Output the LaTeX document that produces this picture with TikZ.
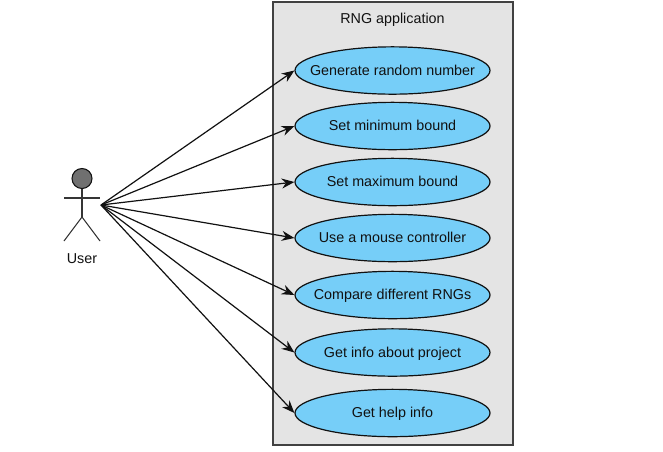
\documentclass[tikz,border=0pt]{standalone}
\usepackage{fontspec}
\setmainfont{Liberation Sans}
\usetikzlibrary{shapes.geometric,arrows.meta}
\definecolor{sky}{RGB}{118,206,248}
\definecolor{pane}{RGB}{228,228,228}
\definecolor{ink}{RGB}{17,17,17}
\tikzset{
  sys/.style={draw=ink!80,fill=pane,line width=0.9pt,inner sep=0pt},
  uc/.style={draw=ink,fill=sky,ellipse,line width=0.9pt,align=center,font=\fontsize{10.75pt}{12pt}\selectfont,text=ink,minimum width=146.25pt,minimum height=35.5pt,inner ysep=0pt,inner xsep=-35pt,text height=9pt,text depth=2pt},
  arr/.style={-{Stealth[length=9.5pt,width=7.5pt]},line width=0.9pt,draw=ink},
  fig/.style={line width=0.8pt,draw=ink!85},
  lbl/.style={font=\fontsize{10.75pt}{12pt}\selectfont,text=ink,inner sep=0pt}
}
\begin{document}
\begin{tikzpicture}[x=0.75pt,y=-0.75pt]
\useasboundingbox[fill=white] (0,0) rectangle (663,451);
\node[sys,minimum width=180pt,minimum height=332.25pt] (sys) at (393,223.5) {};
\node[lbl] (title) at (392.5,20) {RNG application};
\node[uc] (gen) at (392.5,70.5) {Generate random number};
\node[uc] (min) at (392.5,126) {Set minimum bound};
\node[uc] (max) at (392.5,182) {Set maximum bound};
\node[uc] (mouse) at (392.5,238) {Use a mouse controller};
\node[uc] (cmp) at (392.5,295) {Compare different RNGs};
\node[uc] (info) at (392.5,352.5) {Get info about project};
\node[uc] (help) at (392.5,413) {Get help info};
% stick figure
\node[draw=ink,fill=ink!60!white,circle,line width=0.8pt,minimum size=15pt,inner sep=0pt] (head) at (82,178.5) {};
\coordinate (hip) at (82,217);
\coordinate (armL) at (64,198);
\coordinate (armR) at (100,198);
\coordinate (footL) at (64,241);
\coordinate (footR) at (100,241);
\coordinate (user) at (101,205);
\draw[fig] (head.south) -- (hip);
\draw[fig] (armL) -- (armR);
\draw[fig] (footL) -- (hip) -- (footR);
\node[lbl] (name) at (82,258.5) {User};
\draw[arr] (user) -- (gen.west);
\draw[arr] (user) -- (min.west);
\draw[arr] (user) -- (max.west);
\draw[arr] (user) -- (mouse.west);
\draw[arr] (user) -- (cmp.west);
\draw[arr] (user) -- (info.west);
\draw[arr] (user) -- (help.west);
\end{tikzpicture}
\end{document}
